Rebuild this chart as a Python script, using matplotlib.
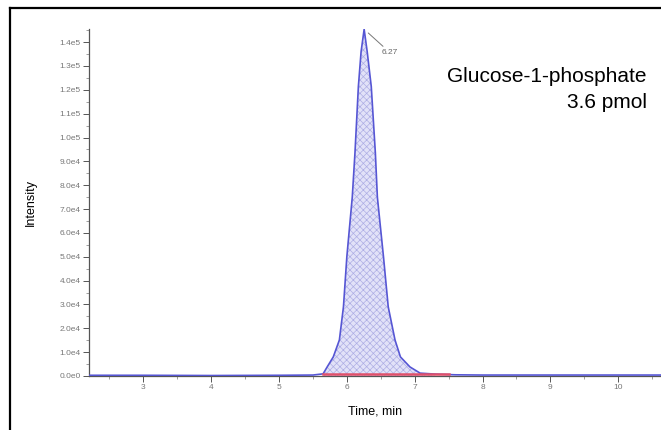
import matplotlib.pyplot as plt
from matplotlib.lines import Line2D
from matplotlib.ticker import MultipleLocator, FuncFormatter

plt.rcParams['font.family'] = ['Liberation Sans', 'DejaVu Sans']
plt.rcParams['hatch.linewidth'] = 0.5

# chromatogram trace
time = [2.2, 3.0, 4.0, 5.0, 5.5, 5.65, 5.71, 5.80, 5.89, 5.95, 6.00, 6.08, 6.12,
        6.17, 6.21, 6.255, 6.30, 6.36, 6.42, 6.45, 6.54, 6.61, 6.71, 6.79, 6.93,
        7.08, 7.3, 7.6, 8.0, 9.0, 10.0, 10.63]
intensity = [300, 300, 200, 300, 400, 900, 3800, 8000, 15100, 29000, 50000, 75000, 93700,
             121400, 136000, 145400, 136000, 121400, 93700, 75000, 50000, 29000, 15100, 8000, 3800,
             1200, 800, 500, 400, 400, 400, 400]

peak_start, peak_end = 5.65, 7.5
peak_rt = 6.255
peak_label = "6.27"
x_ticks = [3, 4, 5, 6, 7, 8, 9, 10]
y_ticks = [0, 10000, 20000, 30000, 40000, 50000, 60000, 70000, 80000,
           90000, 100000, 110000, 120000, 130000, 140000]
title_lines = ["Glucose-1-phosphate", "3.6 pmol"]

fig = plt.figure(figsize=(6.61, 4.30), dpi=100)
ax = fig.add_axes([89/661, 54/430, 1 - 89/661, (376 - 29)/430])

# fill under the peak
pk_t = [t for t in time if peak_start <= t <= peak_end]
pk_i = [i for t, i in zip(time, intensity) if peak_start <= t <= peak_end]
ax.fill_between(pk_t, pk_i, 0, facecolor="#e2e2f8", edgecolor="#aeaee4",
                hatch="xxxxx", linewidth=0, zorder=1)
ax.plot(time, intensity, color="#5656d4", lw=1.2, zorder=3)
ax.plot([peak_start, peak_end], [700, 700], color="#e0506a", lw=1.8, zorder=4)

# peak label with leader line
apex = max(intensity)
ax.annotate(peak_label, xy=(peak_rt, apex), xytext=(peak_rt + 0.38, apex - 9800),
            fontsize=6, color="#666666", ha="center", va="center",
            arrowprops=dict(arrowstyle="-", color="#777777", lw=0.7,
                            shrinkA=0, shrinkB=4))

ax.set_xlim(2.2, 10.63)
ax.set_ylim(0, 145500)
ax.set_xticks(x_ticks)
ax.set_yticks(y_ticks)
ax.xaxis.set_minor_locator(MultipleLocator(0.5))
ax.yaxis.set_minor_locator(MultipleLocator(5000))

def sci_fmt(v, pos):
    if v == 0:
        return "0.0e0"
    exp = len(str(int(v))) - 1
    return "%.1fe%d" % (v / 10**exp, exp)

ax.yaxis.set_major_formatter(FuncFormatter(sci_fmt))
ax.tick_params(axis="both", which="major", labelsize=6, colors="#555555",
               labelcolor="#777777", length=4, width=0.7, pad=2)
ax.tick_params(axis="both", which="minor", colors="#777777", length=2, width=0.5)

for side in ["top", "right"]:
    ax.spines[side].set_visible(False)
ax.spines["left"].set_color("#555555")
ax.spines["bottom"].set_color("#555555")
ax.spines["left"].set_linewidth(0.9)
ax.spines["bottom"].set_linewidth(0.9)

ax.set_xlabel("Time, min", fontsize=9, labelpad=10)
ax.set_ylabel("Intensity", fontsize=9, labelpad=16)

fig.text(647/661, 1 - 77/430, title_lines[0], fontsize=15, ha="right", va="center")
fig.text(647/661, 1 - 102/430, title_lines[1], fontsize=15, ha="right", va="center")

# outer frame (left and top edges visible)
fig.add_artist(Line2D([9.5/661, 9.5/661], [0, 1 - 7.5/430], color="black", lw=1.6,
                      transform=fig.transFigure))
fig.add_artist(Line2D([9.5/661, 1], [1 - 7.5/430, 1 - 7.5/430], color="black", lw=1.6,
                      transform=fig.transFigure))

fig.savefig("out.png", dpi=100)
